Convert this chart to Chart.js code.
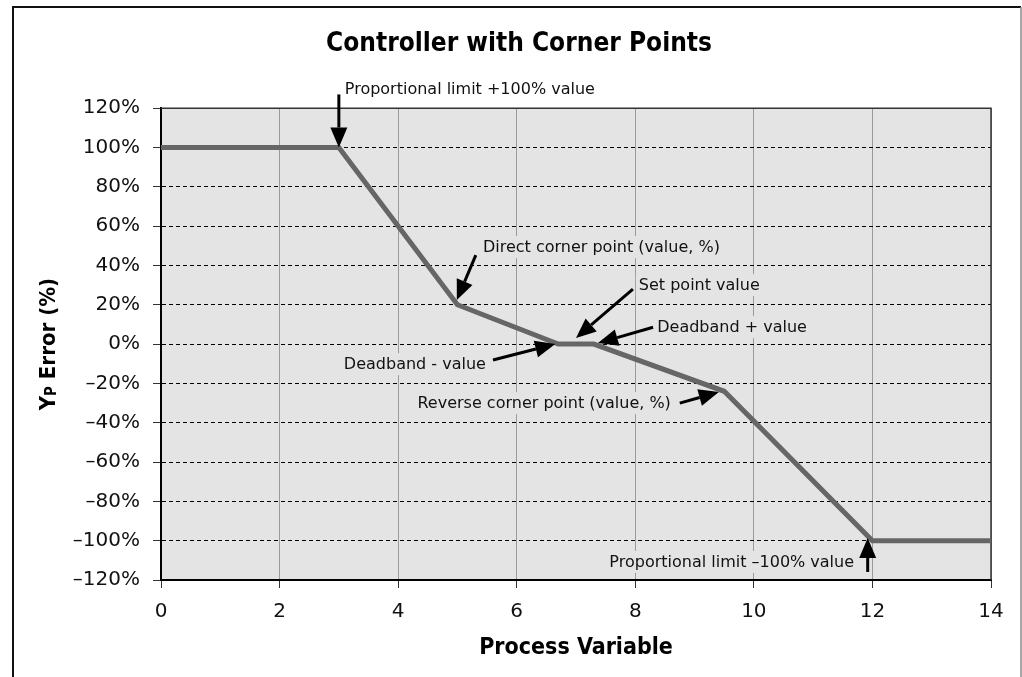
<!DOCTYPE html>
<html>
<head>
<meta charset="utf-8">
<script src="https://cdn.jsdelivr.net/npm/chart.js@4"></script>
<style>
  body { margin: 0; background: #fff; }
  canvas { display: block; }
</style>
</head>
<body>
<canvas id="chart" width="1022" height="677"></canvas>
<script>
// data
const processValues = [0, 3, 5, 6.7, 7.3, 9.5, 12, 14];
const errorValues = [100, 100, 20, 0, 0, -24, -100, -100];
const xTickValues = [0, 2, 4, 6, 8, 10, 12, 14];
const yTickValues = [-120, -100, -80, -60, -40, -20, 0, 20, 40, 60, 80, 100, 120];

// annotation texts with anchor (data units) and arrow start / tip
const noteTexts = [
    'Proportional limit +100% value',
    'Direct corner point (value, %)',
    'Set point value',
    'Deadband + value',
    'Deadband - value',
    'Reverse corner point (value, %)',
    'Proportional limit \u2013100% value'
];
const noteAnchors = [[3.1, 130], [5.43, 49.3], [8.06, 30], [8.37, 8.6], [5.48, -10.2], [8.6, -30], [11.69, -110.8]];
const noteAligns = ['left', 'left', 'left', 'left', 'right', 'right', 'right'];
const arrowFrom = [[3, 127], [5.31, 45.3], [7.96, 28], [8.3, 8.6], [5.6, -8.1], [8.75, -30], [11.92, -115.9]];
const arrowTo = [[3, 100], [4.99, 22.4], [7.0, 3.1], [7.37, 0.5], [6.65, 0], [9.41, -24.4], [11.92, -98.6]];

const plotBg = '#e3e4e3';
const noteFont = '16px "DejaVu Sans", sans-serif';
const boldFont = '"Liberation Sans Narrow", "DejaVu Sans Condensed", sans-serif';

function fmtPct(v) {
    return (v < 0 ? '\u2013' + Math.abs(v) : v) + '%';
}

const decorPlugin = {
    id: 'decor',
    beforeDraw(chart) {
        const { ctx, chartArea: a } = chart;
        ctx.save();
        ctx.fillStyle = plotBg;
        ctx.fillRect(a.left, a.top, a.right - a.left, a.bottom - a.top);
        ctx.restore();
    },
    beforeDatasetsDraw(chart) {
        const { ctx, chartArea: a, scales } = chart;
        ctx.save();
        // top and right edge of plot
        ctx.strokeStyle = '#333';
        ctx.lineWidth = 1.5;
        ctx.beginPath();
        ctx.moveTo(a.left, a.top);
        ctx.lineTo(a.right, a.top);
        ctx.lineTo(a.right, a.bottom);
        ctx.stroke();
        // note texts
        ctx.font = noteFont;
        ctx.textBaseline = 'middle';
        noteTexts.forEach((t, i) => {
            const x = scales.x.getPixelForValue(noteAnchors[i][0]);
            const y = scales.y.getPixelForValue(noteAnchors[i][1]);
            const w = ctx.measureText(t).width;
            const left = noteAligns[i] === 'left' ? x : x - w;
            const inside = y > a.top;
            ctx.fillStyle = inside ? plotBg : '#fff';
            ctx.fillRect(left - 3, y - 11, w + 6, 22);
            ctx.fillStyle = '#111';
            ctx.textAlign = 'left';
            ctx.fillText(t, left, y + 1);
        });
        ctx.restore();
    },
    afterDatasetsDraw(chart) {
        const { ctx, scales } = chart;
        ctx.save();
        ctx.fillStyle = '#000';
        ctx.strokeStyle = '#000';
        arrowFrom.forEach((p, i) => {
            const x0 = scales.x.getPixelForValue(p[0]);
            const y0 = scales.y.getPixelForValue(p[1]);
            const x1 = scales.x.getPixelForValue(arrowTo[i][0]);
            const y1 = scales.y.getPixelForValue(arrowTo[i][1]);
            const ang = Math.atan2(y1 - y0, x1 - x0);
            const head = 20, half = 8.5;
            const bx = x1 - head * Math.cos(ang), by = y1 - head * Math.sin(ang);
            ctx.lineWidth = 3;
            ctx.beginPath();
            ctx.moveTo(x0, y0);
            ctx.lineTo(bx, by);
            ctx.stroke();
            ctx.beginPath();
            ctx.moveTo(x1, y1);
            ctx.lineTo(bx + half * Math.sin(ang), by - half * Math.cos(ang));
            ctx.lineTo(bx - half * Math.sin(ang), by + half * Math.cos(ang));
            ctx.closePath();
            ctx.fill();
        });
        ctx.restore();
    },
    afterDraw(chart) {
        const { ctx, chartArea: a } = chart;
        ctx.save();
        // y axis title: Y with small P
        ctx.translate(48, (a.top + a.bottom) / 2);
        ctx.rotate(-Math.PI / 2);
        ctx.fillStyle = '#000';
        ctx.textBaseline = 'middle';
        ctx.textAlign = 'left';
        const big = 'bold 22px ' + boldFont, small = 'bold 15px ' + boldFont;
        ctx.font = big; const wY = ctx.measureText('Y').width;
        const wRest = ctx.measureText(' Error (%)').width;
        ctx.font = small; const wP = ctx.measureText('P').width;
        let x = -(wY + wP + wRest) / 2;
        ctx.font = big; ctx.fillText('Y', x, 1); x += wY;
        ctx.font = small; ctx.fillText('P', x, 4); x += wP;
        ctx.font = big; ctx.fillText(' Error (%)', x, 1);
        ctx.restore();
        // outer frame
        ctx.save();
        ctx.lineWidth = 2;
        ctx.strokeStyle = '#111';
        ctx.beginPath();
        ctx.moveTo(13, 677);
        ctx.lineTo(13, 7);
        ctx.lineTo(1021, 7);
        ctx.stroke();
        ctx.strokeStyle = '#888';
        ctx.lineWidth = 1.5;
        ctx.beginPath();
        ctx.moveTo(1021, 7);
        ctx.lineTo(1021, 677);
        ctx.stroke();
        ctx.restore();
    }
};

new Chart(document.getElementById('chart'), {
    type: 'line',
    data: {
        datasets: [{
            data: processValues.map((v, i) => ({ x: v, y: errorValues[i] })),
            borderColor: '#666666',
            borderWidth: 5,
            pointRadius: 0,
            tension: 0,
            fill: false
        }]
    },
    options: {
        responsive: false,
        animation: false,
        layout: { padding: { top: 0, right: 0, bottom: 0, left: 16 } },
        plugins: {
            legend: { display: false },
            tooltip: { enabled: false },
            title: {
                display: true,
                text: 'Controller with Corner Points',
                color: '#000',
                font: { family: boldFont, size: 26, weight: 'bold' },
                padding: { top: 29, bottom: 48 }
            }
        },
        scales: {
            x: {
                type: 'linear',
                min: 0,
                max: 14,
                afterFit: s => { s.height = 97; },
                afterBuildTicks: s => { s.ticks = xTickValues.map(v => ({ value: v })); },
                ticks: {
                    color: '#111',
                    font: { family: '"DejaVu Sans", sans-serif', size: 20 },
                    padding: 12,
                    maxRotation: 0
                },
                grid: { color: '#9a9a9a', lineWidth: 1, tickLength: 8, tickColor: '#333' },
                border: { color: '#000', width: 2 },
                title: {
                    display: true,
                    text: 'Process Variable',
                    color: '#000',
                    font: { family: boldFont, size: 23, weight: 'bold' },
                    padding: { top: 0, bottom: 15 }
                }
            },
            y: {
                type: 'linear',
                min: -120,
                max: 120,
                afterFit: s => { s.width = 145; },
                afterBuildTicks: s => { s.ticks = yTickValues.map(v => ({ value: v })); },
                ticks: {
                    color: '#111',
                    font: { family: '"DejaVu Sans", sans-serif', size: 20 },
                    padding: 13,
                    callback: v => fmtPct(v)
                },
                grid: { color: '#000', lineWidth: 1, tickLength: 8, tickColor: '#333' },
                border: { color: '#000', width: 2, dash: [4, 3] }
            },
            // empty right-hand strip keeps the plot's right edge at x = 14
            yRight: {
                type: 'linear',
                position: 'right',
                display: true,
                afterFit: s => { s.width = 31; },
                ticks: { display: false },
                grid: { display: false },
                border: { display: false }
            }
        }
    },
    plugins: [decorPlugin]
});
</script>
</body>
</html>
